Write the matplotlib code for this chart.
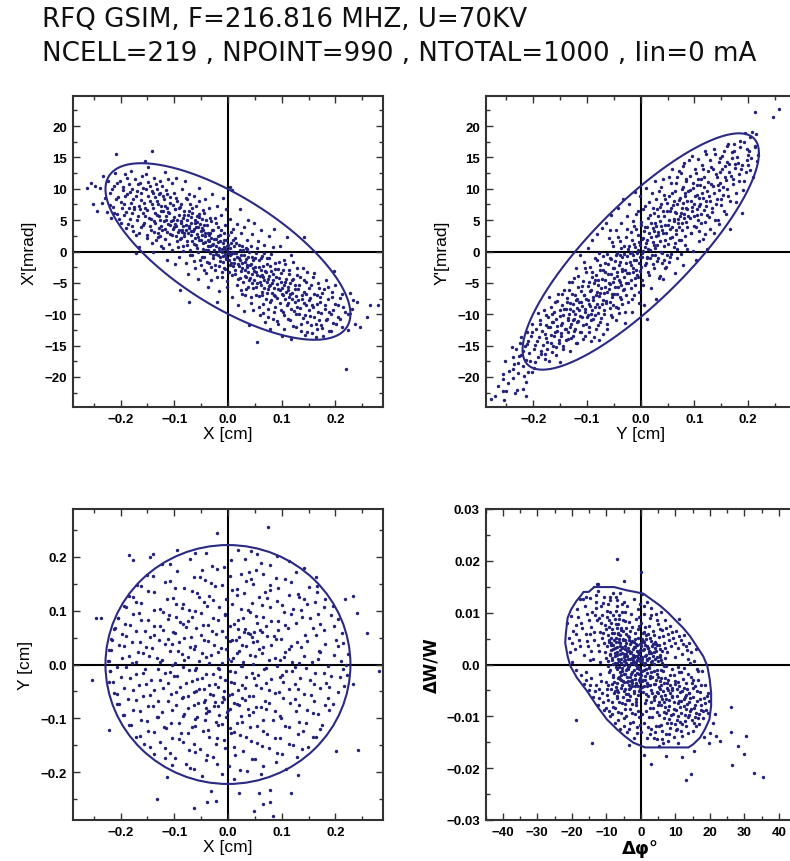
import numpy as np
import matplotlib
matplotlib.use("Agg")
import matplotlib.pyplot as plt
from matplotlib.patches import Ellipse
from matplotlib.ticker import MultipleLocator, FuncFormatter

TITLE_1 = "RFQ GSIM, F=216.816 MHZ, U=70KV"
TITLE_2 = "NCELL=219 , NPOINT=990 , NTOTAL=1000 , Iin=0 mA"

# ---- particle coordinates: (x [cm], x' [mrad]) pairs ----
XXP = [
    -0.262, 10.2, -0.255, 10.9, -0.251, 7.6,
    -0.247, 10.4, -0.243, 6.5, -0.238, 10.1, -0.235, 7.7, -0.232, 12.0,
    -0.228, 8.6, -0.226, 6.3, -0.223, 11.2, -0.220, 9.3, -0.217, 5.4, -0.214, 7.1, -0.212, 10.5, -0.210, 12.5,
    -0.208, 15.5, -0.206, 6.0, -0.204, 8.7, -0.201, 11.3, -0.199, 4.5, -0.197, 6.9, -0.195, 9.8, -0.193, 7.5, -0.192, 12.4, -0.190, 3.8,
    -0.189, 6.3, -0.187, 9.1, -0.185, 10.8, -0.183, 5.2, -0.181, 7.8, -0.180, 12.9, -0.178, 4.1, -0.176, 8.4, -0.175, 6.7, -0.173, 11.6, -0.172, 2.6, -0.171, -0.2,
    -0.169, 9.6, -0.168, 5.7, -0.166, 7.3, -0.165, 0.7, -0.164, 11.0, -0.162, 3.9, -0.161, 8.2, -0.159, 6.1, -0.158, 10.2, -0.156, 4.6, -0.155, 14.4, -0.154, 7.0, -0.152, 12.3, -0.151, 2.1,
    -0.149, 8.8, -0.148, 13.5, -0.147, 5.3, -0.145, 10.5, -0.144, 3.4, -0.142, 16.0, -0.141, 7.6, -0.140, -0.1, -0.139, 9.4, -0.138, 4.8, -0.137, 11.8, -0.135, 6.2, -0.134, 1.9, -0.133, 8.0, -0.132, 10.0, -0.131, 3.0,
    -0.129, 5.6, -0.128, 9.1, -0.127, 11.3, -0.126, 2.4, -0.125, 7.2, -0.124, 4.1, -0.122, 10.5, -0.121, 6.4, -0.120, 0.6, -0.119, 8.3, -0.118, 12.7, -0.117, 3.6, -0.116, 5.0, -0.115, 9.8, -0.114, 7.0, -0.113, -1.4, -0.112, 4.4, -0.111, 11.6,
    -0.109, 6.1, -0.108, 2.8, -0.107, 8.7, -0.106, 4.9, -0.105, 10.9, -0.104, 0.2, -0.103, 7.4, -0.102, 3.6, -0.101, 5.5, -0.100, 9.4, -0.099, -2.0, -0.098, 6.8, -0.097, 11.8, -0.096, 4.0, -0.095, 1.6, -0.094, 8.0, -0.093, 3.1, -0.092, 5.9, -0.091, -0.9, -0.090, -6.2,
    -0.089, 7.1, -0.088, 4.6, -0.087, 2.2, -0.086, 9.9, -0.085, 3.5, -0.084, 5.3, -0.083, 0.9, -0.082, 6.5, -0.081, 3.0, -0.080, 11.2, -0.079, -1.8, -0.078, 4.2, -0.077, 8.4, -0.076, 1.7, -0.075, 5.8, -0.074, -3.6, -0.073, -8.1, -0.072, 3.8, -0.071, 7.6, -0.070, 0.3, -0.072, 9.2,
    -0.069, 4.5, -0.068, 2.6, -0.067, 6.2, -0.066, -0.5, -0.065, 3.3, -0.064, 8.9, -0.063, 1.2, -0.062, 5.1, -0.061, -2.7, -0.060, 3.9, -0.059, 7.3, -0.058, 0.6, -0.057, 4.7, -0.056, -4.4, -0.055, 2.3, -0.054, 6.0, -0.053, 10.1, -0.052, -1.3, -0.051, 3.2, -0.050, 1.8, -0.053, 5.5,
    -0.049, 3.7, -0.048, -0.9, -0.047, 6.6, -0.046, 1.3, -0.045, 4.2, -0.044, -3.0, -0.043, 2.5, -0.042, 8.4, -0.041, 0.2, -0.040, 5.0, -0.039, -1.7, -0.038, 3.0, -0.037, -5.6, -0.036, 1.6, -0.035, 6.9, -0.034, -0.3, -0.033, 2.9, -0.032, 4.8, -0.031, -2.4, -0.030, 9.1, -0.038, 0.9,
    -0.029, 1.1, -0.028, -1.0, -0.027, 3.5, -0.026, 0.3, -0.025, 5.4, -0.024, -2.2, -0.023, 2.0, -0.022, -0.4, -0.021, 7.2, -0.020, -4.1, -0.019, 1.5, -0.018, 3.9, -0.017, -6.3, -0.016, 0.6, -0.015, -1.5, -0.014, 2.6, -0.013, 5.9, -0.012, -3.2, -0.011, 0.0, -0.010, 8.6, -0.020, -8.0,
    -0.009, -0.7, -0.008, 1.9, -0.007, -2.6, -0.006, 0.4, -0.005, 4.3, -0.004, -1.2, -0.003, 6.8, -0.002, -4.7, -0.001, 0.9, 0.000, -0.2, 0.001, 2.7, 0.002, -3.3, 0.003, -0.6, 0.004, 5.2, 0.005, -1.8, 0.006, 1.4, 0.007, -7.2, 0.008, 9.8, 0.009, -2.3, 0.010, 3.6, 0.004, 10.3,
    0.011, -1.2, 0.012, 0.8, 0.013, -3.6, 0.014, 2.1, 0.015, -0.3, 0.016, -5.3, 0.017, 4.4, 0.018, -2.0, 0.019, -8.6, 0.020, 1.0, 0.021, -1.0, 0.022, 6.7, 0.023, -4.2, 0.024, -0.6, 0.025, 2.9, 0.026, -6.8, 0.027, -2.7, 0.028, 0.3, 0.029, -9.5, 0.030, 3.9,
    0.031, -1.7, 0.032, -3.9, 0.033, 0.5, 0.034, -6.0, 0.035, 1.9, 0.036, -2.5, 0.037, 5.1, 0.038, -0.9, 0.039, -4.6, 0.040, -11.7, 0.041, -2.1, 0.042, -7.3, 0.043, 0.9, 0.044, 2.8, 0.045, -5.1, 0.046, -1.3, 0.047, -9.4, 0.048, 4.6, 0.049, -3.1,
    0.051, -2.4, 0.052, -5.6, 0.053, -0.2, 0.054, -14.4, 0.055, -3.8, 0.056, 1.6, 0.057, -7.1, 0.058, -1.4, 0.059, -4.9, 0.060, -10.2, 0.061, 3.4, 0.062, -2.9, 0.063, -6.4, 0.064, -0.7, 0.065, -8.4, 0.066, -4.1, 0.067, 1.0, 0.068, -5.8, 0.069, -11.3,
    0.071, -3.2, 0.072, -6.6, 0.073, -1.1, 0.074, -9.1, 0.075, -4.4, 0.076, 2.5, 0.077, -5.5, 0.078, -12.4, 0.079, -2.3, 0.080, -7.8, 0.081, -0.4, 0.082, -5.0, 0.083, -10.7, 0.084, -3.6, 0.085, -6.9, 0.086, 3.6, 0.087, -8.9, 0.088, -1.9,
    0.091, -5.2, 0.092, -7.4, 0.093, -2.8, 0.094, -11.6, 0.095, -4.3, 0.096, -6.2, 0.097, 0.9, 0.098, -9.3, 0.099, -3.5, 0.100, -5.9, 0.101, -13.4, 0.102, -7.0, 0.104, -1.3, 0.105, -10.1, 0.106, -4.8, 0.108, -6.5, 0.109, 2.3,
    0.111, -5.6, 0.112, -8.2, 0.114, -3.0, 0.115, -10.9, 0.116, -6.8, 0.118, -13.9, 0.119, -4.6, 0.120, -7.6, 0.122, -1.6, 0.123, -9.5, 0.124, -5.3, 0.126, -12.1, 0.127, -7.1, 0.128, -3.7, 0.129, -8.8,
    0.131, -6.0, 0.133, -9.9, 0.134, -4.0, 0.136, -12.7, 0.137, -7.5, 0.139, -2.6, 0.140, -10.6, 0.142, -6.4, 0.143, -13.3, 0.145, -8.5, 0.146, -4.9, 0.148, -11.2, 0.141, 2.3,
    0.151, -7.8, 0.153, -10.3, 0.155, -5.4, 0.157, -13.0, 0.159, -8.9, 0.161, -3.5, 0.163, -11.5, 0.165, -7.0, 0.166, -12.4, 0.168, -9.6, 0.169, -5.9,
    0.171, -8.1, 0.173, -11.8, 0.175, -6.6, 0.177, -13.4, 0.180, -9.2, 0.182, -4.6, 0.184, -10.7, 0.186, -7.5, 0.189, -12.6,
    0.191, -9.9, 0.194, -6.5, 0.196, -11.4, 0.199, -8.3, 0.197, -3.1, 0.205, -10.5, 0.208, -7.4,
    0.212, -12.0, 0.215, -8.9, 0.219, -18.8, 0.223, -10.0, 0.227, -6.6,
    0.232, -7.7, 0.236, -11.6, 0.241, -8.0, 0.246, -12.1,
    0.258, -10.4, 0.265, -8.6, 0.280, -8.6,
]
XXP_CORE = [
    -0.219, 7.4, -0.216, 9.9, -0.213, 6.1, -0.209, 8.3, -0.207, 10.9, -0.203, 5.2, -0.200, 7.9, -0.196, 10.3, -0.194, 5.8, -0.191, 8.8, -0.188, 11.7, -0.186, 4.4, -0.184, 7.0, -0.182, 9.5, -0.179, 6.2,
    -0.178, 10.0, -0.177, 3.3, -0.174, 7.1, -0.172, 8.9, -0.170, 5.0, -0.167, 10.8, -0.166, 3.0, -0.163, 6.8, -0.161, 9.3, -0.160, 12.0, -0.158, 4.3, -0.157, 7.8, -0.155, 5.6, -0.153, 9.9, -0.151, 2.7, -0.150, 6.6, -0.148, 11.1, -0.146, 4.0, -0.145, 8.1, -0.143, 5.2, -0.142, 9.6, -0.141, 1.4,
    -0.139, 6.9, -0.138, 3.1, -0.136, 8.7, -0.135, 4.6, -0.134, 10.7, -0.133, 5.8, -0.131, 2.3, -0.130, 7.5, -0.129, 3.8, -0.127, 9.4, -0.126, 5.0, -0.125, 0.9, -0.124, 6.5, -0.122, 3.4, -0.121, 8.8, -0.119, 4.9, -0.118, 2.0, -0.117, 7.2, -0.115, 5.6, -0.114, 3.1, -0.113, 9.2, -0.111, 6.3, -0.110, 1.2, -0.108, 4.3, -0.107, 7.8, -0.105, 2.6, -0.103, 5.1, -0.101, 3.9,
    -0.099, 6.7, -0.098, 4.4, -0.097, 2.4, -0.096, 8.5, -0.094, 5.0, -0.093, 0.7, -0.092, 3.5, -0.091, 6.9, -0.089, 2.0, -0.088, 4.9, -0.087, 7.6, -0.086, 3.1, -0.084, 0.1, -0.083, 4.0, -0.082, 5.9, -0.081, 2.4, -0.079, 8.6, -0.078, 3.4, -0.077, 1.0, -0.076, 5.0, -0.074, 2.9, -0.073, 6.4, -0.072, 4.1, -0.071, -0.6, -0.069, 3.3, -0.068, 5.5, -0.067, 1.7, -0.066, 7.0, -0.064, 3.6, -0.063, -1.5, -0.062, 2.2, -0.061, 4.6,
    -0.059, 1.1, -0.058, 5.6, -0.057, 2.8, -0.056, 0.0, -0.055, 3.9, -0.054, 8.0, -0.053, 1.9, -0.052, 4.4, -0.051, -2.1, -0.049, 2.6, -0.048, 5.2, -0.047, 0.4, -0.046, 3.4, -0.045, -0.9, -0.044, 6.1, -0.043, 1.5, -0.042, 3.0, -0.041, -3.4, -0.039, 4.3, -0.038, 1.9, -0.037, 0.3, -0.036, 2.7, -0.035, -1.9, -0.034, 5.3, -0.033, 0.8, -0.032, 2.1, -0.031, -4.6, -0.029, 3.4, -0.028, 1.2, -0.027, -0.6, -0.026, 2.0, -0.025, -2.9, -0.023, 4.6, -0.022, 0.9,
    -0.019, -0.5, -0.018, 2.4, -0.017, 0.1, -0.016, -2.3, -0.015, 1.6, -0.014, -0.9, -0.013, 3.4, -0.012, 0.4, -0.011, -4.0, -0.010, 1.3, -0.009, -1.6, -0.008, 0.7, -0.007, 2.9, -0.006, -0.4, -0.005, -2.8, -0.004, 1.9, -0.003, -0.9, -0.002, 0.3, -0.001, -5.6, 0.001, 1.0, 0.002, -1.3, 0.003, 0.6, 0.004, -2.1, 0.005, 3.1, 0.006, -0.4, 0.007, -3.7, 0.008, 0.0, 0.009, 1.8, 0.011, -1.9, 0.012, -0.2, 0.014, -2.9, 0.015, 1.3, 0.017, -0.8, 0.019, -4.4,
    0.021, -2.3, 0.022, 0.2, 0.023, -1.3, 0.024, -6.2, 0.025, -3.1, 0.026, 0.9, 0.027, -1.8, 0.028, -4.9, 0.029, -0.5, 0.031, -3.0, 0.032, -7.0, 0.033, -1.2, 0.034, -4.0, 0.035, 0.4, 0.036, -2.2, 0.037, -5.6, 0.038, -3.2, 0.039, -0.1, 0.041, -4.3, 0.042, -2.0, 0.043, -8.2, 0.044, -3.6, 0.045, -0.9, 0.046, -5.9, 0.047, -2.7, 0.049, -4.5, 0.051, -1.0, 0.052, -6.9, 0.053, -3.3, 0.054, 0.6, 0.055, -5.0, 0.057, -2.5, 0.058, -8.8, 0.059, -3.9,
    0.061, -5.4, 0.062, -1.1, 0.063, -3.7, 0.064, -6.9, 0.065, -2.3, 0.066, -9.8, 0.067, -4.6, 0.068, -0.2, 0.069, -3.1, 0.071, -7.6, 0.072, -4.9, 0.073, -2.0, 0.074, -6.0, 0.075, -10.5, 0.076, -3.9, 0.077, -1.0, 0.078, -5.3, 0.079, -8.1, 0.081, -3.1, 0.082, -6.6, 0.083, 0.7, 0.084, -4.6, 0.085, -9.6, 0.086, -5.9, 0.087, -2.8, 0.088, -7.1, 0.089, -4.1, 0.091, -11.1, 0.093, -6.0, 0.095, -1.7, 0.097, -8.2, 0.099, -4.8,
    0.101, -6.8, 0.102, -3.0, 0.103, -9.7, 0.104, -5.4, 0.105, -12.3, 0.106, -7.6, 0.107, -2.0, 0.108, -4.4, 0.109, -8.6, 0.111, -6.2, 0.112, -10.8, 0.113, -3.6, 0.114, -7.3, 0.116, -5.0, 0.117, -9.2, 0.118, -0.6, 0.119, -6.6, 0.121, -11.9, 0.122, -4.4, 0.124, -8.1, 0.125, -6.0, 0.127, -10.0, 0.128, -2.6, 0.130, -7.7, 0.132, -5.3, 0.134, -9.0, 0.136, -11.6, 0.138, -6.9,
    0.141, -8.2, 0.142, -4.6, 0.144, -10.1, 0.145, -6.7, 0.147, -12.9, 0.148, -3.2, 0.150, -9.4, 0.151, -5.8, 0.153, -7.4, 0.155, -11.8, 0.156, -8.6, 0.158, -4.0, 0.160, -10.4, 0.161, -6.8, 0.163, -13.6, 0.165, -8.4, 0.167, -5.0, 0.169, -11.0, 0.171, -7.2, 0.174, -9.8, 0.176, -12.2, 0.178, -6.0,
    0.181, -8.5, 0.183, -11.0, 0.186, -5.6, 0.188, -9.6, 0.191, -12.6, 0.193, -7.2, 0.196, -9.4, 0.199, -5.3, 0.202, -11.6, 0.205, -8.6, 0.209, -10.8, 0.213, -6.7, 0.218, -9.7, 0.224, -12.5, 0.231, -9.2,
]

# ---- particle coordinates: (y [cm], y' [mrad]) pairs ----
YYP = [
    -0.279, -23.5, -0.271, -23.1, -0.257, -22.3, -0.254, -23.7, -0.256, -19.6, -0.256, -20.4, -0.252, -17.5,
    -0.250, -22.2, -0.237, -18.8, -0.237, -20.1, -0.237, -16.9, -0.234, -22.6, -0.231, -22.1, -0.240, -15.3,
    -0.228, -17.8, -0.225, -14.6, -0.222, -16.5, -0.217, -19.8, -0.214, -23.0, -0.214, -17.3, -0.212, -12.9, -0.219, -15.9, -0.211, -14.7,
    -0.210, -19.2, -0.203, -19.2, -0.208, -16.2, -0.205, -13.4, -0.202, -11.6, -0.199, -15.6, -0.197, -17.7, -0.195, -12.4, -0.193, -14.3, -0.191, -9.8,
    -0.189, -13.7, -0.187, -11.0, -0.186, -16.4, -0.184, -12.6, -0.182, -14.9, -0.181, -9.3, -0.179, -17.1, -0.177, -11.8, -0.176, -13.8, -0.174, -15.5, -0.172, -10.4, -0.171, -7.3,
    -0.169, -12.1, -0.168, -14.6, -0.166, -9.9, -0.165, -16.0, -0.163, -11.3, -0.161, -13.5, -0.160, -8.0, -0.158, -10.7, -0.157, -15.2, -0.155, -12.6, -0.154, -6.8, -0.152, -14.1, -0.151, -9.4, -0.150, -17.6,
    -0.149, -11.7, -0.148, -13.0, -0.146, -8.6, -0.145, -10.2, -0.144, -15.0, -0.142, -6.2, -0.141, -12.3, -0.140, -9.1, -0.139, -14.1, -0.137, -7.4, -0.136, -11.0, -0.135, -12.9, -0.134, -4.9, -0.133, -10.0, -0.132, -15.8, -0.131, -8.2,
    -0.129, -11.6, -0.128, -6.8, -0.127, -13.4, -0.126, -9.5, -0.125, -4.2, -0.124, -10.8, -0.122, -12.4, -0.121, -7.7, -0.120, -2.6, -0.119, -9.0, -0.118, -14.6, -0.117, -5.6, -0.116, -11.1, -0.115, -8.1, -0.114, -0.6, -0.113, -10.3, -0.112, -6.3, -0.111, -12.8,
    -0.109, -8.7, -0.108, -4.7, -0.107, -11.7, -0.106, -6.9, -0.105, -1.6, -0.104, -9.6, -0.103, -13.5, -0.102, -3.3, -0.101, -7.5, -0.100, -10.4, -0.099, 0.6, -0.098, -5.5, -0.097, -12.1, -0.096, -8.4, -0.095, -2.4, -0.094, -6.3, -0.093, -9.9, -0.092, -14.3, -0.091, -4.0, -0.090, 1.9,
    -0.089, -7.7, -0.088, -10.7, -0.087, -5.1, -0.086, -1.0, -0.085, -8.9, -0.084, -3.7, -0.083, -12.4, -0.082, -6.4, -0.081, 2.8, -0.080, -9.8, -0.079, -4.5, -0.078, -0.3, -0.077, -7.1, -0.076, -11.3, -0.075, -2.1, -0.074, -5.8, -0.073, 3.8, -0.072, -8.4, -0.071, -13.2, -0.070, -3.0, -0.078, -14.1,
    -0.069, -6.6, -0.068, -9.4, -0.067, -1.8, -0.066, -4.6, -0.065, 4.6, -0.064, -7.9, -0.063, -11.6, -0.062, -0.4, -0.061, -3.6, -0.060, -6.0, -0.059, 2.2, -0.058, -9.0, -0.057, -5.2, -0.056, -1.2, -0.055, 5.8, -0.054, -7.3, -0.053, -10.5, -0.052, -2.7, -0.051, 0.8, -0.050, -4.3, -0.058, 3.5,
    -0.049, -6.7, -0.048, -1.5, -0.047, -8.8, -0.046, 3.4, -0.045, -3.9, -0.044, -0.2, -0.043, -5.6, -0.042, 6.9, -0.041, -9.8, -0.040, -2.2, -0.039, 1.7, -0.038, -4.9, -0.037, -7.6, -0.036, 4.5, -0.035, -0.9, -0.034, -3.1, -0.033, 8.3, -0.032, -6.0, -0.031, 0.9, -0.030, -11.4, -0.039, -0.6,
    -0.029, -2.9, -0.028, 2.3, -0.027, -5.1, -0.026, -0.7, -0.025, 5.6, -0.024, -8.1, -0.023, 0.4, -0.022, -3.5, -0.021, 7.6, -0.020, -1.6, -0.019, -5.9, -0.018, 3.1, -0.017, -9.6, -0.016, -0.1, -0.015, -2.6, -0.014, 4.9, -0.013, -7.0, -0.012, 1.2, -0.011, 9.5, -0.010, -4.2, -0.020, -0.3,
    -0.009, -1.4, -0.008, 3.6, -0.007, -3.8, -0.006, 0.3, -0.005, 6.5, -0.004, -6.4, -0.003, 1.5, -0.002, -0.8, -0.001, 8.9, 0.000, -2.4, 0.001, 4.2, 0.002, -0.2, 0.003, -4.6, 0.004, 2.2, 0.005, 6.8, 0.006, -8.6, 0.007, 0.7, 0.008, 3.9, 0.009, -1.8, 0.010, 10.1, 0.011, -10.7,
    0.011, 1.9, 0.012, -0.9, 0.013, 5.3, 0.014, -3.3, 0.015, 2.9, 0.016, 7.9, 0.017, -1.1, 0.018, 0.2, 0.019, 4.6, 0.020, -5.8, 0.021, 9.4, 0.022, 1.5, 0.023, -2.0, 0.024, 6.1, 0.025, 3.3, 0.026, -0.5, 0.027, 11.3, 0.028, -7.6, 0.029, 4.0, 0.030, 1.0,
    0.031, 6.8, 0.032, -1.0, 0.033, 2.7, 0.034, 9.7, 0.035, -3.9, 0.036, 4.8, 0.037, 0.0, 0.038, 7.6, 0.039, -1.8, 0.040, 3.4, 0.041, 11.6, 0.042, -4.4, 0.043, 5.7, 0.044, -1.3, 0.045, 8.4, 0.046, 1.9, 0.047, -2.5, 0.048, 6.5, 0.049, -0.6,
    0.051, 4.3, 0.052, 8.9, 0.053, -1.6, 0.054, 2.1, 0.055, 6.4, 0.056, 11.0, 0.057, -0.4, 0.058, 3.9, 0.059, 13.1, 0.060, 7.4, 0.061, 0.7, 0.062, 5.2, 0.063, -3.5, 0.064, 9.7, 0.065, 2.8, 0.066, 6.1, 0.067, -1.0, 0.068, 11.9, 0.069, 4.6,
    0.071, 8.2, 0.072, 1.8, 0.073, 5.6, 0.074, 12.5, 0.075, -0.4, 0.076, 7.0, 0.077, 3.4, 0.078, 10.3, 0.079, -2.2, 0.080, 6.0, 0.081, 14.1, 0.082, 2.5, 0.083, 8.9, 0.084, 4.7, 0.085, 11.2, 0.086, 0.4, 0.087, 6.7, 0.088, 9.6,
    0.091, 5.3, 0.092, 12.0, 0.093, 2.9, 0.094, 8.1, 0.095, 15.3, 0.096, 6.5, 0.097, 0.1, 0.098, 10.2, 0.099, 4.0, 0.100, 7.6, 0.101, 13.2, 0.102, -1.4, 0.104, 9.0, 0.105, 5.8, 0.106, 11.5, 0.108, 3.2, 0.109, 7.3,
    0.111, 10.6, 0.112, 6.0, 0.114, 13.8, 0.115, 2.0, 0.116, 8.5, 0.118, 11.9, 0.119, 4.7, 0.120, 16.1, 0.122, 7.2, 0.123, 0.4, 0.124, 9.6, 0.126, 12.8, 0.127, 5.5, 0.128, 14.6, 0.129, 8.0,
    0.131, 10.8, 0.133, 6.3, 0.134, 13.1, 0.136, 3.0, 0.137, 9.3, 0.139, 15.6, 0.140, 7.5, 0.142, 11.9, 0.143, 5.0, 0.145, 14.2, 0.146, 9.8, 0.148, 12.7, 0.149, 8.3,
    0.151, 15.2, 0.153, 10.3, 0.155, 6.5, 0.157, 13.6, 0.159, 11.4, 0.161, 16.8, 0.163, 8.9, 0.165, 13.9, 0.166, 3.6, 0.168, 12.0, 0.169, 15.8,
    0.171, 10.7, 0.173, 17.2, 0.175, 13.3, 0.177, 9.4, 0.180, 15.1, 0.182, 12.4, 0.184, 17.6, 0.186, 13.1, 0.189, 6.1,
    0.194, 18.9, 0.197, 14.6, 0.192, 11.2, 0.202, 16.1, 0.204, 13.0, 0.207, 19.0, 0.200, 15.4,
    0.215, 18.8, 0.217, 14.4, 0.213, 22.3, 0.212, 16.9,
    0.247, 21.5, 0.258, 22.8,
]
YYP_CORE = [
    -0.236, -17.9, -0.233, -15.6, -0.229, -19.3, -0.226, -16.7, -0.223, -13.6, -0.219, -18.2, -0.216, -15.1, -0.213, -20.8, -0.209, -14.2, -0.206, -17.4, -0.202, -12.8, -0.199, -18.6, -0.196, -14.9, -0.192, -16.9, -0.188, -11.6, -0.185, -15.8,
    -0.179, -13.2, -0.178, -16.3, -0.176, -10.1, -0.174, -14.4, -0.172, -12.1, -0.170, -17.4, -0.168, -8.8, -0.167, -13.3, -0.165, -11.2, -0.163, -15.1, -0.161, -9.6, -0.160, -12.8, -0.158, -16.5, -0.156, -7.9, -0.155, -11.9, -0.153, -14.6, -0.151, -10.3, -0.149, -13.4, -0.147, -6.8, -0.146, -11.4, -0.144, -15.6, -0.142, -9.2,
    -0.139, -12.4, -0.138, -8.0, -0.136, -14.0, -0.135, -10.6, -0.134, -6.1, -0.132, -12.0, -0.131, -9.1, -0.130, -13.8, -0.128, -4.9, -0.127, -10.9, -0.126, -8.4, -0.124, -12.6, -0.123, -6.9, -0.122, -10.0, -0.120, -14.6, -0.119, -7.6, -0.118, -11.2, -0.116, -3.9, -0.115, -9.4, -0.113, -12.9, -0.112, -8.1, -0.110, -5.5, -0.109, -10.5, -0.107, -13.9, -0.106, -7.0, -0.104, -9.1, -0.103, -2.6, -0.101, -11.6,
    -0.099, -7.8, -0.098, -10.1, -0.097, -4.9, -0.096, -12.8, -0.095, -8.7, -0.093, -6.1, -0.092, -11.0, -0.091, -3.3, -0.090, -9.3, -0.088, -7.2, -0.087, -13.6, -0.086, -4.6, -0.085, -10.2, -0.084, -6.9, -0.082, -1.4, -0.081, -8.3, -0.080, -11.8, -0.079, -5.4, -0.077, -8.9, -0.076, -2.9, -0.075, -6.6, -0.074, -10.6, -0.072, -4.4, -0.071, -7.7, -0.070, -0.7, -0.068, -9.9, -0.067, -5.6, -0.066, -3.2, -0.065, -8.2, -0.063, -12.3, -0.062, -6.4, -0.061, -2.0,
    -0.059, -5.0, -0.058, -8.0, -0.057, -1.0, -0.056, -10.1, -0.055, -3.6, -0.054, -6.7, -0.053, 1.5, -0.052, -4.8, -0.051, -8.6, -0.049, -2.6, -0.048, -5.7, -0.047, -11.0, -0.046, -0.5, -0.045, -6.8, -0.044, -3.3, -0.043, -9.0, -0.042, 2.3, -0.041, -4.5, -0.039, -7.3, -0.038, -1.6, -0.037, -5.3, -0.036, 0.6, -0.035, -8.4, -0.034, -2.8, -0.033, -6.2, -0.032, -0.4, -0.031, -4.0, -0.029, -9.7, -0.028, -1.9, -0.027, -6.9, -0.026, 3.6, -0.025, -3.4, -0.023, -5.1, -0.022, 0.9,
    -0.019, -2.2, -0.018, -4.6, -0.017, 1.8, -0.016, -7.5, -0.015, -0.6, -0.014, -3.2, -0.013, 4.1, -0.012, -1.4, -0.011, -5.4, -0.010, 0.7, -0.009, -2.9, -0.008, 6.0, -0.007, -0.2, -0.006, -4.0, -0.005, 2.6, -0.004, -1.9, -0.003, -8.2, -0.002, 1.1, -0.001, -3.1, 0.001, 4.7, 0.002, -0.9, 0.003, 2.0, 0.004, -5.3, 0.005, 0.1, 0.006, 3.3, 0.007, -2.1, 0.008, 7.3, 0.009, 1.4, 0.011, -1.1, 0.012, 3.9, 0.014, 0.4, 0.015, -3.7, 0.017, 5.9, 0.019, 2.3,
    0.021, -0.6, 0.022, 3.7, 0.023, 6.9, 0.024, 1.1, 0.025, -2.6, 0.026, 4.6, 0.027, 0.5, 0.028, 8.3, 0.029, 2.4, 0.031, -1.5, 0.032, 5.6, 0.033, 3.1, 0.034, -4.2, 0.035, 7.1, 0.036, 1.6, 0.037, 4.1, 0.038, 10.3, 0.039, -0.3, 0.041, 2.9, 0.042, 6.4, 0.043, 0.8, 0.044, 9.0, 0.045, 4.3, 0.046, -2.7, 0.047, 3.0, 0.049, 7.8, 0.051, 1.2, 0.052, 5.0, 0.053, 11.9, 0.054, 3.6, 0.055, -0.8, 0.057, 6.9, 0.058, 2.3, 0.059, 9.3,
    0.061, 4.8, 0.062, 8.1, 0.063, 1.3, 0.064, 6.3, 0.065, 10.9, 0.066, 3.5, 0.067, 7.6, 0.068, 0.4, 0.069, 5.2, 0.071, 12.9, 0.072, 3.9, 0.073, 8.6, 0.074, 6.1, 0.075, 1.9, 0.076, 10.0, 0.077, 4.6, 0.078, 7.7, 0.079, 13.6, 0.081, 5.3, 0.082, 9.4, 0.083, 1.1, 0.084, 6.9, 0.085, 11.5, 0.086, 3.9, 0.087, 8.0, 0.088, 5.7, 0.089, 14.6, 0.091, 9.8, 0.093, 2.9, 0.095, 7.1, 0.097, 11.0, 0.099, 5.6,
    0.101, 8.8, 0.102, 12.5, 0.103, 3.9, 0.104, 6.8, 0.105, 10.6, 0.106, 14.8, 0.107, 5.1, 0.108, 8.6, 0.109, 1.6, 0.111, 7.6, 0.112, 11.6, 0.113, 4.6, 0.114, 9.3, 0.116, 13.1, 0.117, 6.6, 0.118, 10.3, 0.119, 2.8, 0.121, 8.0, 0.122, 15.6, 0.124, 5.9, 0.125, 11.1, 0.127, 8.9, 0.128, 3.6, 0.130, 13.4, 0.132, 7.0, 0.134, 10.4, 0.136, 16.3, 0.138, 5.0,
    0.141, 12.3, 0.142, 8.3, 0.144, 10.6, 0.145, 4.4, 0.147, 14.9, 0.148, 11.0, 0.150, 7.4, 0.151, 13.1, 0.153, 9.0, 0.155, 16.0, 0.156, 11.9, 0.158, 6.0, 0.160, 14.3, 0.161, 10.0, 0.163, 17.1, 0.165, 12.6, 0.167, 8.0, 0.169, 14.9, 0.171, 11.6, 0.174, 16.1, 0.176, 13.9, 0.178, 7.9,
    0.181, 14.1, 0.183, 11.3, 0.185, 16.6, 0.188, 13.8, 0.190, 9.8, 0.192, 17.4, 0.195, 12.6, 0.197, 16.4, 0.200, 13.8, 0.203, 18.3, 0.206, 14.9, 0.209, 11.9, 0.213, 16.6, 0.218, 15.4,
    -0.265, -21.5, -0.245, -19.0, -0.248, -21.0, -0.220, -22.0,
]

# ---- particle coordinates: (x [cm], y [cm]) pairs ----
XY = [
    -0.062, 0.208, 0.018, 0.213, 0.055, 0.205,
    -0.108, 0.186, -0.071, 0.197, -0.030, 0.183, 0.006, 0.194, 0.061, 0.188, 0.114, 0.192,
    -0.139, 0.165, -0.094, 0.174, -0.052, 0.162, -0.021, 0.177, 0.024, 0.168, 0.052, 0.176, 0.089, 0.161, 0.127, 0.172,
    -0.162, 0.146, -0.118, 0.154, -0.081, 0.143, -0.043, 0.157, -0.012, 0.148, 0.017, 0.141, 0.034, 0.155, 0.078, 0.147, 0.106, 0.158, 0.151, 0.144,
    -0.176, 0.126, -0.138, 0.134, -0.103, 0.124, -0.067, 0.137, -0.035, 0.128, -0.004, 0.121, 0.029, 0.133, 0.058, 0.125, 0.079, 0.138, 0.113, 0.129, 0.142, 0.122, 0.166, 0.135,
    -0.194, 0.108, -0.161, 0.115, -0.127, 0.104, -0.096, 0.112, -0.072, 0.101, -0.044, 0.117, -0.016, 0.106, 0.008, 0.113, 0.037, 0.102, 0.064, 0.111, 0.091, 0.118, 0.121, 0.104, 0.148, 0.112, 0.179, 0.107,
    -0.205, 0.086, -0.176, 0.094, -0.148, 0.083, -0.121, 0.097, -0.097, 0.088, -0.074, 0.081, -0.051, 0.095, -0.028, 0.086, -0.006, 0.092, 0.019, 0.083, 0.041, 0.097, 0.066, 0.089, 0.093, 0.081, 0.118, 0.094, 0.152, 0.087, 0.191, 0.092,
    -0.212, 0.066, -0.183, 0.074, -0.154, 0.063, -0.127, 0.071, -0.102, 0.061, -0.083, 0.076, -0.059, 0.067, -0.037, 0.073, -0.011, 0.062, 0.011, 0.075, 0.032, 0.066, 0.049, 0.061, 0.071, 0.072, 0.094, 0.064, 0.126, 0.077, 0.159, 0.068, 0.197, 0.072,
    -0.216, 0.046, -0.190, 0.053, -0.163, 0.042, -0.138, 0.055, -0.112, 0.047, -0.091, 0.041, -0.068, 0.052, -0.044, 0.045, -0.022, 0.057, 0.003, 0.043, 0.021, 0.051, 0.038, 0.058, 0.054, 0.044, 0.072, 0.053, 0.099, 0.047, 0.128, 0.041, 0.164, 0.054, 0.201, 0.046,
    -0.221, 0.027, -0.193, 0.034, -0.168, 0.023, -0.141, 0.031, -0.117, 0.038, -0.093, 0.026, -0.071, 0.033, -0.048, 0.022, -0.026, 0.036, -0.004, 0.028, 0.016, 0.021, 0.033, 0.035, 0.058, 0.029, 0.081, 0.037, 0.107, 0.024, 0.136, 0.032, 0.169, 0.026, 0.204, 0.034,
    -0.224, 0.006, -0.197, 0.013, -0.171, 0.004, -0.147, 0.016, -0.122, 0.009, -0.098, 0.002, -0.075, 0.014, -0.053, 0.007, -0.031, 0.017, -0.012, 0.003, 0.009, 0.012, 0.028, 0.005, 0.051, 0.016, 0.077, 0.008, 0.104, 0.014, 0.133, 0.003, 0.167, 0.011, 0.211, 0.006,
    -0.219, -0.012, -0.189, -0.005, -0.158, -0.016, -0.131, -0.008, -0.108, -0.014, -0.084, -0.004, -0.062, -0.011, -0.041, -0.017, -0.019, -0.006, 0.004, -0.013, 0.024, -0.003, 0.045, -0.015, 0.068, -0.008, 0.092, -0.002, 0.119, -0.012, 0.146, -0.006, 0.178, -0.016, 0.214, -0.009,
    -0.214, -0.033, -0.183, -0.025, -0.152, -0.036, -0.126, -0.028, -0.101, -0.022, -0.079, -0.035, -0.057, -0.027, -0.036, -0.038, -0.014, -0.024, 0.006, -0.032, 0.027, -0.039, 0.048, -0.026, 0.071, -0.034, 0.096, -0.023, 0.124, -0.037, 0.153, -0.029, 0.183, -0.035, 0.209, -0.024,
    -0.207, -0.054, -0.176, -0.047, -0.146, -0.057, -0.121, -0.043, -0.097, -0.051, -0.074, -0.058, -0.053, -0.046, -0.033, -0.054, -0.018, -0.042, 0.002, -0.056, 0.019, -0.048, 0.039, -0.059, 0.062, -0.044, 0.087, -0.053, 0.113, -0.046, 0.141, -0.055, 0.172, -0.043, 0.204, -0.051,
    -0.203, -0.074, -0.171, -0.066, -0.139, -0.077, -0.111, -0.068, -0.086, -0.063, -0.064, -0.075, -0.044, -0.069, -0.026, -0.078, -0.008, -0.064, 0.011, -0.072, 0.032, -0.066, 0.052, -0.079, 0.076, -0.071, 0.103, -0.063, 0.132, -0.076, 0.161, -0.068, 0.196, -0.073,
    -0.196, -0.093, -0.163, -0.086, -0.131, -0.097, -0.104, -0.084, -0.081, -0.092, -0.058, -0.098, -0.037, -0.087, -0.016, -0.094, 0.004, -0.083, 0.024, -0.096, 0.047, -0.089, 0.071, -0.082, 0.097, -0.095, 0.126, -0.087, 0.158, -0.091, 0.188, -0.085,
    -0.185, -0.113, -0.151, -0.105, -0.119, -0.116, -0.092, -0.108, -0.066, -0.117, -0.043, -0.104, -0.019, -0.112, 0.003, -0.118, 0.027, -0.106, 0.054, -0.114, 0.083, -0.103, 0.114, -0.116, 0.145, -0.108, 0.176, -0.112,
    -0.172, -0.134, -0.137, -0.126, -0.104, -0.137, -0.074, -0.128, -0.047, -0.123, -0.021, -0.136, 0.006, -0.127, 0.034, -0.134, 0.066, -0.124, 0.097, -0.137, 0.131, -0.129, 0.164, -0.135,
    -0.157, -0.147, -0.118, -0.155, -0.083, -0.144, -0.052, -0.157, -0.023, -0.148, 0.011, -0.153, 0.043, -0.143, 0.077, -0.156, 0.113, -0.148, 0.149, -0.154,
    -0.137, -0.166, -0.098, -0.174, -0.062, -0.163, -0.027, -0.172, 0.014, -0.168, 0.051, -0.176, 0.092, -0.164, 0.128, -0.171,
    -0.104, -0.187, -0.063, -0.194, -0.021, -0.185, 0.022, -0.197, 0.066, -0.188, 0.108, -0.194,
    -0.049, -0.208, 0.011, -0.213, 0.061, -0.204,
    0.030, 0.060, 0.045, 0.052, 0.060, 0.065, 0.015, 0.045, -0.010, -0.060, -0.025, -0.070,
    0.000, -0.085, -0.040, -0.080, 0.020, -0.075, -0.060, -0.050, 0.100, -0.020, 0.120, 0.005,
    -0.020, 0.245, 0.074, 0.256, -0.185, 0.203, -0.176, 0.194, -0.146, 0.199, -0.140, 0.205,
    -0.095, 0.212, 0.043, 0.211, -0.245, 0.087, -0.237, 0.086, -0.254, -0.028, -0.222, -0.121,
    0.281, -0.012, 0.258, 0.059, 0.240, 0.096, 0.233, 0.127, 0.218, 0.121, 0.242, -0.159,
    0.202, -0.161, 0.233, -0.037, -0.132, -0.250, -0.064, -0.267, -0.039, -0.256, -0.022, -0.254,
    -0.032, -0.236, 0.049, -0.273, 0.066, -0.259, 0.078, -0.256, 0.084, -0.281, 0.117, -0.239,
    0.078, -0.233, 0.020, -0.239, 0.057, -0.239, -0.114, -0.209, 0.130, -0.205,
]
XY_CORE = [
    -0.041, 0.207, 0.032, 0.196, 0.091, 0.202,
    -0.122, 0.187, -0.049, 0.176, -0.008, 0.182, 0.040, 0.172, 0.078, 0.185, 0.141, 0.179,
    -0.151, 0.167, -0.107, 0.156, -0.064, 0.162, -0.032, 0.152, 0.003, 0.165, 0.042, 0.159, 0.066, 0.169, 0.118, 0.154, 0.163, 0.163,
    -0.170, 0.147, -0.149, 0.136, -0.098, 0.142, -0.057, 0.132, -0.025, 0.145, 0.008, 0.139, 0.047, 0.149, 0.069, 0.134, 0.093, 0.143, 0.131, 0.131, 0.165, 0.146,
    -0.185, 0.127, -0.171, 0.116, -0.113, 0.122, -0.084, 0.112, -0.053, 0.125, -0.028, 0.119, 0.016, 0.129, 0.044, 0.114, 0.072, 0.123, 0.101, 0.111, 0.133, 0.126, 0.162, 0.117, 0.180, 0.121,
    -0.190, 0.107, -0.165, 0.096, -0.137, 0.102, -0.109, 0.092, -0.085, 0.105, -0.062, 0.099, -0.039, 0.109, -0.005, 0.094, 0.024, 0.103, 0.053, 0.091, 0.078, 0.106, 0.104, 0.097, 0.136, 0.101, 0.167, 0.093, 0.195, 0.108,
    -0.205, 0.087, -0.191, 0.076, -0.162, 0.082, -0.137, 0.072, -0.112, 0.085, -0.089, 0.079, -0.066, 0.089, -0.046, 0.074, -0.019, 0.083, 0.004, 0.071, 0.028, 0.086, 0.054, 0.077, 0.081, 0.081, 0.106, 0.073, 0.138, 0.088, 0.171, 0.075, 0.205, 0.084,
    -0.210, 0.067, -0.198, 0.056, -0.171, 0.062, -0.146, 0.052, -0.121, 0.065, -0.098, 0.059, -0.079, 0.069, -0.051, 0.054, -0.029, 0.063, -0.003, 0.051, 0.019, 0.066, 0.041, 0.057, 0.063, 0.061, 0.086, 0.053, 0.112, 0.068, 0.143, 0.055, 0.178, 0.064, 0.212, 0.058,
    -0.218, 0.047, -0.203, 0.036, -0.178, 0.042, -0.152, 0.032, -0.129, 0.045, -0.105, 0.039, -0.082, 0.049, -0.061, 0.034, -0.037, 0.043, -0.013, 0.031, 0.008, 0.046, 0.027, 0.037, 0.046, 0.041, 0.066, 0.033, 0.089, 0.048, 0.117, 0.035, 0.148, 0.044, 0.181, 0.038, 0.214, 0.040,
    -0.217, 0.027, -0.184, 0.016, -0.158, 0.022, -0.133, 0.012, -0.108, 0.025, -0.086, 0.019, -0.063, 0.029, -0.041, 0.014, -0.019, 0.023, 0.001, 0.011, 0.021, 0.026, 0.041, 0.017, 0.064, 0.021, 0.088, 0.013, 0.113, 0.028, 0.141, 0.015, 0.172, 0.024, 0.198, 0.018, 0.223, 0.020,
    -0.222, 0.007, -0.206, -0.004, -0.179, 0.002, -0.154, -0.008, -0.127, 0.005, -0.104, -0.001, -0.081, 0.009, -0.059, -0.006, -0.036, 0.003, -0.016, -0.009, 0.006, 0.006, 0.026, -0.003, 0.047, 0.001, 0.071, -0.007, 0.097, 0.008, 0.124, -0.005, 0.156, 0.004, 0.186, -0.002, 0.219, 0.000,
    -0.219, -0.013, -0.199, -0.024, -0.171, -0.018, -0.143, -0.028, -0.117, -0.015, -0.094, -0.021, -0.072, -0.011, -0.049, -0.026, -0.027, -0.017, -0.006, -0.029, 0.014, -0.014, 0.034, -0.023, 0.056, -0.019, 0.081, -0.027, 0.108, -0.012, 0.134, -0.025, 0.162, -0.016, 0.191, -0.022, 0.221, -0.020,
    -0.221, -0.033, -0.193, -0.044, -0.166, -0.038, -0.138, -0.048, -0.111, -0.035, -0.089, -0.041, -0.066, -0.031, -0.044, -0.046, -0.025, -0.037, -0.008, -0.049, 0.011, -0.034, 0.031, -0.043, 0.053, -0.039, 0.077, -0.047, 0.103, -0.032, 0.131, -0.045, 0.161, -0.036, 0.189, -0.042, 0.216, -0.040,
    -0.213, -0.053, -0.186, -0.064, -0.158, -0.058, -0.131, -0.068, -0.106, -0.055, -0.084, -0.061, -0.063, -0.051, -0.043, -0.066, -0.027, -0.057, -0.011, -0.069, 0.007, -0.054, 0.026, -0.063, 0.046, -0.059, 0.069, -0.067, 0.095, -0.052, 0.124, -0.065, 0.154, -0.056, 0.187, -0.062,
    -0.206, -0.073, -0.177, -0.084, -0.149, -0.078, -0.122, -0.088, -0.097, -0.075, -0.075, -0.081, -0.055, -0.071, -0.036, -0.086, -0.019, -0.077, -0.002, -0.089, 0.017, -0.074, 0.038, -0.083, 0.061, -0.079, 0.087, -0.087, 0.116, -0.072, 0.148, -0.085, 0.181, -0.076,
    -0.193, -0.093, -0.162, -0.104, -0.133, -0.098, -0.106, -0.108, -0.083, -0.095, -0.061, -0.101, -0.041, -0.091, -0.023, -0.106, -0.004, -0.097, 0.016, -0.109, 0.039, -0.094, 0.066, -0.103, 0.098, -0.099, 0.133, -0.107, 0.168, -0.092,
    -0.181, -0.113, -0.148, -0.124, -0.116, -0.118, -0.088, -0.128, -0.061, -0.115, -0.037, -0.121, -0.012, -0.111, 0.012, -0.126, 0.041, -0.117, 0.073, -0.129, 0.106, -0.114, 0.139, -0.123, 0.171, -0.119,
    -0.164, -0.133, -0.127, -0.144, -0.092, -0.138, -0.063, -0.148, -0.035, -0.135, -0.008, -0.141, 0.022, -0.131, 0.054, -0.146, 0.087, -0.137, 0.122, -0.149, 0.158, -0.134,
    -0.146, -0.153, -0.108, -0.164, -0.072, -0.158, -0.039, -0.168, -0.006, -0.155, 0.028, -0.161, 0.063, -0.151, 0.101, -0.166, 0.138, -0.157,
    -0.118, -0.173, -0.079, -0.184, -0.041, -0.178, 0.002, -0.188, 0.044, -0.175, 0.089, -0.181,
    -0.071, -0.193, -0.011, -0.204, 0.036, -0.198,
]

# ---- particle coordinates: (phase [deg], dW/W) pairs ----
PHW = [
    -7.2, 0.0051, -5.1, 0.0047, -3.4, 0.0054, -1.8, 0.0049, 0.6, 0.0046, 2.7, 0.0052, -9.3, 0.0048, -4.2, 0.0058, 1.4, 0.0056, -6.3, 0.0044,
    -8.1, 0.0038, -6.0, 0.0041, -4.6, 0.0036, -2.9, 0.0043, -1.2, 0.0037, 0.2, 0.0042, 1.9, 0.0035, 3.6, 0.0040, -7.0, 0.0033, -3.7, 0.0031, 5.3, 0.0037,
    -8.6, 0.0028, -6.8, 0.0025, -5.3, 0.0031, -3.9, 0.0026, -2.3, 0.0030, -0.9, 0.0024, 0.8, 0.0029, 2.4, 0.0026, 4.1, 0.0031, -1.6, 0.0034, -4.8, 0.0021, 6.2, 0.0027,
    -9.0, 0.0019, -7.5, 0.0016, -6.1, 0.0021, -4.4, 0.0017, -3.1, 0.0022, -1.9, 0.0015, -0.5, 0.0020, 1.1, 0.0016, 2.9, 0.0022, 4.6, 0.0015, -2.6, 0.0012, -5.6, 0.0011, 0.3, 0.0011,
    -8.3, 0.0008, -6.7, 0.0011, -5.0, 0.0006, -3.6, 0.0010, -2.2, 0.0005, -1.0, 0.0009, 0.5, 0.0004, 1.8, 0.0010, 3.3, 0.0006, -4.3, 0.0003, -7.4, 0.0002, 5.8, 0.0008, -0.2, 0.0013,
    -9.6, -0.0002, -7.9, 0.0001, -6.2, -0.0004, -4.9, 0.0000, -3.3, -0.0003, -2.0, 0.0002, -0.7, -0.0005, 0.9, 0.0000, 2.3, -0.0004, 3.9, 0.0001, -1.4, -0.0001, -5.7, 0.0003, 6.8, -0.0003,
    -8.8, -0.0011, -6.9, -0.0008, -5.3, -0.0013, -3.8, -0.0009, -2.5, -0.0014, -1.1, -0.0007, 0.3, -0.0012, 1.6, -0.0009, 3.0, -0.0015, 4.7, -0.0010, -4.5, -0.0018, -0.4, -0.0019,
    -8.0, -0.0021, -6.4, -0.0024, -4.9, -0.0019, -3.2, -0.0025, -1.7, -0.0020, -0.1, -0.0026, 1.3, -0.0022, 2.8, -0.0027, -2.4, -0.0029, -5.8, -0.0029,
    -7.7, -0.0033, -6.0, -0.0028, -4.1, -0.0034, -2.8, -0.0031, -1.3, -0.0036, 0.4, -0.0032, 1.9, -0.0035, -3.5, -0.0039, -0.6, -0.0030,
    -7.1, -0.0043, -5.4, -0.0039, -3.0, -0.0045, -1.8, -0.0041, -0.3, -0.0047, 1.0, -0.0042, -4.6, -0.0048, 2.6, -0.0040,
    -6.6, -0.0053, -4.4, -0.0057, -2.1, -0.0051, -0.9, -0.0058, 0.6, -0.0054, -3.2, -0.0061, -1.5, -0.0066,
    -20.2, 0.0094, -19.6, 0.0064, -19.1, 0.0029, -18.4, 0.0107, -17.9, 0.0048, -17.3, 0.0081, -16.8, 0.0127, -16.5, 0.0019, -16.0, 0.0059, -15.6, 0.0098,
    -15.2, 0.0036, -14.8, 0.0128, -14.3, 0.0072, -13.9, 0.0011, -13.5, 0.0047, -13.1, 0.0109, -12.8, 0.0085, -12.4, 0.0142, -12.0, 0.0026, -11.7, 0.0063,
    -11.3, 0.0095, -11.0, 0.0118, -10.6, 0.0041, -10.3, 0.0077, -10.0, 0.0013, -9.7, 0.0104, -9.4, 0.0056, -9.1, 0.0086, -8.8, 0.0131, -8.5, 0.0037,
    -8.2, 0.0068, -7.9, 0.0095, -7.6, 0.0022, -7.3, 0.0078, -7.0, 0.0113, -6.7, 0.0059, -6.4, 0.0087, -6.1, 0.0137, -5.8, 0.0071, -5.5, 0.0102,
    -5.2, 0.0065, -4.9, 0.0121, -4.6, 0.0083, -12.9, 0.0120, -11.5, 0.0081, -9.9, 0.0091, -8.6, 0.0080, -7.4, 0.0088, -6.9, 0.0070, -10.8, 0.0060,
    -14.6, 0.0058, -17.5, 0.0127, -20.8, 0.0052, -21.3, 0.0080, -18.8, 0.0077, -12.7, 0.0155, -7.2, 0.0130, -9.0, 0.0125, -15.9, 0.0131, -13.3, 0.0095,
    0.4, 0.0136, 0.9, 0.0098, 1.3, 0.0072, 1.7, 0.0121, 2.2, 0.0058, 2.6, 0.0089, 3.1, 0.0109, 3.5, 0.0065, 4.0, 0.0044, 4.4, 0.0097,
    4.9, 0.0078, 5.3, 0.0053, 5.8, 0.0101, 6.2, 0.0066, 6.7, 0.0042, 7.1, 0.0086, 7.6, 0.0024, 8.0, 0.0058, 8.5, 0.0074, 8.9, 0.0036,
    9.4, 0.0052, 9.8, 0.0015, 10.3, 0.0065, 10.8, 0.0032, 11.2, 0.0088, 11.7, 0.0048, 12.1, 0.0021, 12.6, 0.0057, 13.1, 0.0036, 13.6, 0.0011,
    14.1, 0.0042, 14.6, 0.0024, 15.3, 0.0006, 16.0, 0.0030, 2.0, 0.0032, 3.8, 0.0024, 5.6, 0.0019, 0.7, 0.0061, -0.6, 0.0092, -0.1, 0.0117,
    4.2, -0.0061, 4.6, -0.0092, 5.0, -0.0024, 5.3, -0.0119, 5.7, -0.0047, 6.0, -0.0078, 6.4, -0.0013, 6.7, -0.0104, 7.0, -0.0058, 7.3, -0.0135,
    7.6, -0.0036, 7.9, -0.0087, 8.2, -0.0069, 8.5, -0.0021, 8.8, -0.0112, 9.1, -0.0049, 9.4, -0.0095, 9.7, -0.0072, 10.0, -0.0031, 10.3, -0.0126,
    10.6, -0.0060, 10.9, -0.0100, 11.2, -0.0042, 11.5, -0.0082, 11.8, -0.0015, 12.1, -0.0115, 12.4, -0.0066, 12.7, -0.0098, 13.0, -0.0035, 13.3, -0.0077,
    13.6, -0.0132, 13.9, -0.0055, 14.2, -0.0090, 14.5, -0.0024, 14.8, -0.0108, 15.1, -0.0062, 15.4, -0.0084, 15.7, -0.0041, 16.0, -0.0119, 16.3, -0.0070,
    16.6, -0.0029, 16.9, -0.0095, 17.2, -0.0053, 17.5, -0.0078, 17.8, -0.0012, 18.1, -0.0104, 18.4, -0.0064, 18.7, -0.0040, 19.0, -0.0087, 19.4, -0.0055,
    19.8, -0.0071, 5.5, -0.0031, 6.2, -0.0066, 7.8, -0.0050, 8.6, -0.0040, 9.2, -0.0062, 10.4, -0.0047, 11.0, -0.0070, 12.0, -0.0051, 13.2, -0.0058,
    14.0, -0.0073, 15.0, -0.0046, 6.9, -0.0082, 8.1, -0.0106, 9.9, -0.0115, 11.6, -0.0128, 12.9, -0.0109, 15.6, -0.0101, 17.0, -0.0115, 4.8, -0.0143,
    6.5, -0.0151, 9.5, -0.0140, 10.9, -0.0151, 3.0, -0.0125, 3.6, -0.0084, 2.4, -0.0102, 1.7, -0.0141, 1.2, -0.0075, 2.0, -0.0061, 3.3, -0.0055,
    4.0, -0.0037, 5.9, -0.0010, 7.4, -0.0003, 9.0, -0.0009, 10.7, -0.0004, 12.5, -0.0006, 14.3, 0.0002, 16.2, -0.0008, 0.5, -0.0096, 0.1, -0.0130,
    -17.2, -0.0021, -16.5, -0.0038, -15.8, -0.0014, -15.0, -0.0049, -14.3, -0.0027, -13.7, -0.0063, -13.0, -0.0040, -12.4, -0.0078, -11.8, -0.0019, -11.2, -0.0055,
    -10.6, -0.0087, -10.0, -0.0034, -9.5, -0.0068, -9.0, -0.0100, -8.5, -0.0048, -8.0, -0.0082, -7.5, -0.0112, -7.0, -0.0061, -6.5, -0.0092, -6.0, -0.0125,
    -5.5, -0.0074, -5.0, -0.0103, -4.5, -0.0085, -4.0, -0.0131, -3.5, -0.0068, -3.0, -0.0112, -2.5, -0.0093, -2.0, -0.0141, -1.5, -0.0079, -1.0, -0.0121,
    -0.5, -0.0102, -12.0, -0.0047, -9.8, -0.0058, -8.2, -0.0072, -6.8, -0.0049, -5.2, -0.0062, -3.8, -0.0056, -2.6, -0.0077, -18.9, -0.0010, -20.0, 0.0004,
    -6.9, 0.0203, -4.8, 0.0161, 0.1, 0.0178, -12.5, 0.0156, -18.7, -0.0108, -14.0, -0.0151, 2.9, -0.0191, 0.8, -0.0174, 7.3, -0.0176, 12.1, -0.0178,
    13.1, -0.0223, 14.5, -0.0212, 15.4, -0.0167, 26.1, -0.0082, 26.1, -0.0130, 26.5, -0.0193, 28.3, -0.0158, 29.9, -0.0172, 30.5, -0.0138, 32.9, -0.0209,
    35.5, -0.0217, 22.9, -0.0148, 21.8, -0.0138, 20.2, -0.0132, 20.8, -0.0113, 19.9, -0.0151, 18.4, -0.0140, 21.5, -0.0095, -3.3, -0.0155, 5.2, -0.0158,
]
PHW_CORE = [
    -9.8, 0.0035, -9.1, -0.0014, -8.7, 0.0052, -8.4, -0.0038, -8.2, 0.0012, -7.9, 0.0029, -7.6, -0.0052, -7.3, 0.0044, -7.1, -0.0004, -6.8, 0.0018,
    -6.6, -0.0027, -6.5, 0.0061, -6.2, 0.0007, -6.0, -0.0015, -5.9, 0.0036, -5.7, -0.0045, -5.5, 0.0023, -5.4, -0.0006, -5.2, 0.0049, -5.0, 0.0014,
    -4.9, -0.0033, -4.7, 0.0030, -4.5, 0.0008, -4.4, -0.0011, -4.2, 0.0041, -4.1, -0.0024, -3.9, 0.0017, -3.8, 0.0055, -3.6, -0.0005, -3.5, 0.0027,
    -3.4, -0.0047, -3.2, 0.0011, -3.1, 0.0039, -2.9, -0.0018, -2.8, 0.0003, -2.7, 0.0024, -2.5, -0.0036, -2.4, 0.0046, -2.3, 0.0009, -2.1, -0.0010,
    -2.0, 0.0033, -1.9, -0.0055, -1.7, 0.0016, -1.6, -0.0028, -1.5, 0.0040, -1.3, 0.0005, -1.2, -0.0016, -1.1, 0.0026, -0.9, -0.0041, -0.8, 0.0012,
    -0.7, 0.0051, -0.5, -0.0008, -0.4, 0.0021, -0.3, -0.0033, -0.1, 0.0007, 0.0, 0.0036, 0.2, -0.0021, 0.3, 0.0015, 0.5, -0.0043, 0.6, 0.0028,
    0.8, -0.0011, 0.9, 0.0043, 1.1, 0.0002, 1.2, -0.0030, 1.4, 0.0019, 1.5, -0.0057, 1.7, 0.0008, 1.9, -0.0017, 2.0, 0.0031, 2.2, -0.0039,
    2.4, 0.0013, 2.5, -0.0007, 2.7, 0.0024, 2.9, -0.0049, 3.1, 0.0004, 3.3, -0.0025, 3.5, 0.0017, 3.7, -0.0013, 3.9, -0.0062, 4.1, 0.0010,
    4.3, -0.0030, 4.5, 0.0026, 4.8, -0.0018, 5.0, 0.0006, 5.3, -0.0044, 5.6, 0.0014, 5.9, -0.0026, 6.2, 0.0003, 6.6, -0.0036, 7.0, 0.0012,
    -9.4, 0.0006, -8.9, 0.0021, -8.0, -0.0024, -7.4, 0.0031, -6.9, -0.0035, -6.3, 0.0049, -5.8, -0.0020, -5.3, 0.0033, -4.8, -0.0052, -4.3, 0.0020,
    -3.7, -0.0031, -3.3, 0.0048, -2.6, -0.0042, -2.2, 0.0019, -1.8, 0.0060, -1.4, -0.0039, -1.0, 0.0017, -0.6, -0.0051, -0.2, 0.0028, 0.4, 0.0049,
    0.7, -0.0029, 1.3, 0.0037, 1.8, -0.0041, 2.3, 0.0023, 2.8, -0.0022, 3.4, 0.0035, 3.8, -0.0038, 4.4, 0.0040, 5.1, -0.0055, 5.7, 0.0029,
    -7.8, 0.0060, -5.6, 0.0066, -3.0, 0.0064, -0.9, 0.0069, 1.0, 0.0062, -9.7, -0.0047, -7.0, -0.0064, -4.0, -0.0069, -1.3, -0.0073, 1.6, -0.0068,
    -6.0, 0.0028, -4.6, 0.0048, -2.1, 0.0043, -0.3, 0.0039, 0.1, -0.0013, -1.9, 0.0001, -3.9, -0.0009, -5.1, -0.0032, -6.8, 0.0003, -8.5, 0.0041,
    2.6, -0.0083, 3.3, -0.0101, 3.9, -0.0069, 4.4, -0.0118, 4.9, -0.0079, 5.4, -0.0098, 5.8, -0.0061, 6.3, -0.0129, 6.8, -0.0072, 7.2, -0.0094,
    7.7, -0.0045, 8.1, -0.0081, 8.6, -0.0123, 9.0, -0.0060, 9.5, -0.0085, 9.9, -0.0038, 10.4, -0.0107, 10.8, -0.0074, 11.3, -0.0054, 11.7, -0.0093,
    12.2, -0.0028, 12.6, -0.0080, 13.1, -0.0119, 13.5, -0.0047, 13.9, -0.0097, 14.4, -0.0065, 14.9, -0.0036, 15.3, -0.0113, 15.8, -0.0078, 16.2, -0.0052,
    16.7, -0.0104, 17.1, -0.0067, 17.6, -0.0040, 18.0, -0.0089, 18.5, -0.0074, 19.1, -0.0061, 19.6, -0.0093, 6.0, -0.0040, 7.0, -0.0026, 8.4, -0.0055,
    9.6, -0.0020, 10.9, -0.0033, 12.4, -0.0045, 13.8, -0.0018, 15.2, -0.0029, 16.6, -0.0012, 4.7, -0.0053, 5.2, -0.0072, 6.6, -0.0091, 8.9, -0.0098,
    10.1, -0.0088, 11.5, -0.0110, 12.8, -0.0062, 14.6, -0.0085, 16.1, -0.0094, 17.4, -0.0088, 3.1, -0.0072, 2.2, -0.0120, 3.7, -0.0142, 5.9, -0.0117,
    7.6, -0.0112, 8.3, -0.0134, 10.6, -0.0125, 12.0, -0.0138, 13.7, -0.0102, 15.0, -0.0128, 1.4, -0.0090, 0.9, -0.0112, 2.7, -0.0135, 4.2, -0.0131,
    6.1, -0.0143, 7.9, -0.0148, 11.8, -0.0071, 13.0, -0.0085, 14.1, -0.0055, 9.2, -0.0045, 8.0, -0.0030, 11.1, -0.0014, 6.4, -0.0052, 7.4, -0.0066,
    -18.9, 0.0058, -18.1, 0.0092, -17.6, 0.0035, -16.9, 0.0071, -16.2, 0.0112, -15.7, 0.0046, -15.1, 0.0086, -14.5, 0.0027, -14.0, 0.0101, -13.6, 0.0063,
    -13.0, 0.0135, -12.5, 0.0038, -12.1, 0.0089, -11.6, 0.0112, -11.2, 0.0051, -10.7, 0.0130, -10.4, 0.0025, -10.1, 0.0068, -9.6, 0.0117, -9.3, 0.0043,
    -8.9, 0.0102, -8.4, 0.0060, -8.1, 0.0138, -7.7, 0.0048, -7.3, 0.0104, -6.9, 0.0125, -6.6, 0.0078, -6.2, 0.0096, -5.9, 0.0057, -5.4, 0.0116,
    -5.1, 0.0085, -4.7, 0.0101, -4.3, 0.0070, -3.9, 0.0112, -3.4, 0.0082, -2.9, 0.0097, -2.4, 0.0073, -1.9, 0.0126, -1.4, 0.0088, -0.9, 0.0108,
    -20.6, 0.0025, -19.8, 0.0041, -14.8, 0.0009, -11.9, 0.0004, -9.1, 0.0072,
    0.2, 0.0081, 0.8, 0.0113, 1.5, 0.0049, 2.3, 0.0075, 3.0, 0.0096, 3.9, 0.0057, 4.7, 0.0086, 5.5, 0.0068, 6.5, 0.0055, 7.3, 0.0070,
    8.2, 0.0048, 9.1, 0.0063, 10.0, 0.0041, 11.0, 0.0055, 12.3, 0.0039, 13.5, 0.0028, 2.9, 0.0046, 4.8, 0.0038, 7.0, 0.0032, -0.4, 0.0075,
    -16.0, -0.0030, -14.7, -0.0040, -13.4, -0.0052, -12.2, -0.0065, -11.0, -0.0072, -10.1, -0.0083, -9.2, -0.0090, -8.3, -0.0096, -7.4, -0.0084, -6.6, -0.0108,
    -5.8, -0.0094, -4.9, -0.0118, -4.2, -0.0100, -3.3, -0.0124, -2.3, -0.0110, -1.2, -0.0132, -0.7, -0.0089, -11.5, -0.0031, -9.6, -0.0040, -7.8, -0.0055,
    -6.3, -0.0072, -4.7, -0.0076, -3.1, -0.0085, -1.8, -0.0096, -0.2, -0.0117,
]

# Twiss parameters of the transverse rms ellipses (beta in cm/mrad, emittance in cm*mrad)
TWISS_X = {"alpha": 1.0, "beta": 0.0229, "emit": 2.27}
TWISS_Y = {"alpha": -1.5, "beta": 0.02104, "emit": 2.30}
# semi-axes of the beam spot ellipse in the x-y plane [cm]
SPOT_RX, SPOT_RY = 0.228, 0.222

# longitudinal acceptance contour
CONTOUR_PHASE = [-13.5, -7.7, -4.0, -1.6, 0.8, 3.2, 5.6, 8.0, 9.9, 12.3, 14.3, 16.2, 18.1, 19.3, 20.0, 20.4,
                 20.4, 19.9, 18.6, 17.2, 15.2, 13.8, 1.25, -2.1, -4.5, -6.9, -9.8, -12.7, -15.6, -18.5, -20.4,
                 -21.2, -21.9, -21.7, -21.2, -20.2, -18.7, -17.1, -16.6, -15.1, -13.5]
CONTOUR_DW = [0.01494, 0.01494, 0.0143, 0.0140, 0.01365, 0.0125, 0.01135, 0.00994, 0.00865, 0.00705, 0.00545,
              0.00353, 0.0016, -0.0003, -0.0029, -0.00545, -0.0080, -0.0106, -0.0125, -0.0141, -0.0154, -0.0160,
              -0.0160, -0.0151, -0.0139, -0.0125, -0.0106, -0.0080, -0.0051, -0.00256, -0.0003, 0.0016, 0.0042,
              0.0061, 0.0090, 0.0106, 0.0122, 0.0135, 0.0140, 0.0140, 0.01494]

DOT = "#22227a"
LINE = "#2a2a85"

W, H = 790, 862
fig = plt.figure(figsize=(W / 100, H / 100), dpi=100)
fig.patch.set_facecolor("white")

fig.text(42 / W, 1 - 20 / H, TITLE_1, fontsize=18.8, family="DejaVu Sans", color="#111111",
         ha="left", va="center")
fig.text(42 / W, 1 - 54 / H, TITLE_2, fontsize=18.8, family="DejaVu Sans", color="#111111",
         ha="left", va="center")


def make_axes(left_px, top_px, w_px=310.5, h_px=311.0):
    return fig.add_axes([left_px / W, 1 - (top_px + h_px) / H, w_px / W, h_px / H])


TICK_FONT = {"family": "Liberation Sans", "weight": "bold", "size": 9.5}
LABEL_FONT = {"family": "Liberation Sans", "size": 12.5}


def style(ax, xlim, ylim, xmaj, xmin, ymaj, ymin, xfmt, yfmt, right=True):
    ax.set_xlim(*xlim)
    ax.set_ylim(*ylim)
    ax.xaxis.set_major_locator(MultipleLocator(xmaj))
    ax.xaxis.set_minor_locator(MultipleLocator(xmin))
    ax.yaxis.set_major_locator(MultipleLocator(ymaj))
    ax.yaxis.set_minor_locator(MultipleLocator(ymin))
    ax.xaxis.set_major_formatter(FuncFormatter(xfmt))
    ax.yaxis.set_major_formatter(FuncFormatter(yfmt))
    ax.tick_params(which="both", direction="in", top=True, right=right, color="#333333", width=1.0)
    ax.tick_params(which="major", length=5, pad=4)
    ax.tick_params(which="minor", length=3)
    for lab in ax.get_xticklabels() + ax.get_yticklabels():
        lab.set_fontproperties(matplotlib.font_manager.FontProperties(**TICK_FONT))
    for sp in ax.spines.values():
        sp.set_linewidth(1.5)
        sp.set_color("#333333")
    ax.axhline(0, color="black", lw=1.5, zorder=1)
    ax.axvline(0, color="black", lw=1.5, zorder=1)


def fmt_one(v, pos):
    return f"{v:.1f}".replace("-", "\u2212")


def fmt_int(v, pos):
    return f"{v:.0f}".replace("-", "\u2212")


def fmt_dw(v, pos):
    if abs(v) < 1e-9:
        return "0.0"
    return f"{v:.2f}".replace("-", "\u2212")


def twiss_curve(tw):
    t = np.linspace(0, 2 * np.pi, 400)
    a, b, e = tw["alpha"], tw["beta"], tw["emit"]
    u = np.sqrt(e * b) * np.cos(t)
    up = -np.sqrt(e / b) * (a * np.cos(t) + np.sin(t))
    return u, up


def scatter(ax, *flat_lists):
    pts = np.concatenate([np.asarray(f, dtype=float).reshape(-1, 2) for f in flat_lists])
    ax.scatter(pts[:, 0], pts[:, 1], s=6, color=DOT, linewidths=0, zorder=2)


XLIM = (-0.289, 0.289)

# --- x - x' ---
ax1 = make_axes(72.7, 97.0)
style(ax1, XLIM, (-24.8, 24.8), 0.1, 0.05, 5, 2.5, fmt_one, fmt_int)
scatter(ax1, XXP, XXP_CORE)
ax1.plot(*twiss_curve(TWISS_X), color=LINE, lw=1.5, zorder=3)
ax1.set_xlabel("X [cm]", fontdict=LABEL_FONT, labelpad=1)
ax1.set_ylabel("X'[mrad]", fontdict=LABEL_FONT, labelpad=6)

# --- y - y' ---
ax2 = make_axes(485.5, 97.0)
style(ax2, XLIM, (-24.8, 24.8), 0.1, 0.05, 5, 2.5, fmt_one, fmt_int, right=False)
scatter(ax2, YYP, YYP_CORE)
ax2.plot(*twiss_curve(TWISS_Y), color=LINE, lw=1.5, zorder=3)
ax2.set_xlabel("Y [cm]", fontdict=LABEL_FONT, labelpad=1)
ax2.set_ylabel("Y'[mrad]", fontdict=LABEL_FONT, labelpad=6)

# --- x - y ---
ax3 = make_axes(72.7, 510.0)
style(ax3, XLIM, (-0.289, 0.289), 0.1, 0.05, 0.1, 0.05, fmt_one, fmt_one)
scatter(ax3, XY, XY_CORE)
ax3.add_patch(Ellipse((0, 0), 2 * SPOT_RX, 2 * SPOT_RY, fill=False, ec=LINE, lw=1.5, zorder=3))
ax3.set_xlabel("X [cm]", fontdict=LABEL_FONT, labelpad=1)
ax3.set_ylabel("Y [cm]", fontdict=LABEL_FONT, labelpad=6)

# --- phase - energy ---
ax4 = make_axes(485.5, 510.0)
style(ax4, (-45, 45), (-0.03, 0.03), 10, 5, 0.01, 0.005, fmt_int, fmt_dw, right=False)
scatter(ax4, PHW, PHW_CORE)
ax4.plot(CONTOUR_PHASE, CONTOUR_DW, color=LINE, lw=1.5, zorder=3)
ax4.set_xlabel("\u0394\u03c6\u00b0", fontdict={"family": "DejaVu Sans", "size": 13, "weight": "bold"}, labelpad=1)
ax4.set_ylabel("\u0394W/W", fontdict={"family": "DejaVu Sans", "size": 12, "weight": "bold"}, labelpad=4)

fig.savefig("out.png", dpi=100, facecolor="white")
